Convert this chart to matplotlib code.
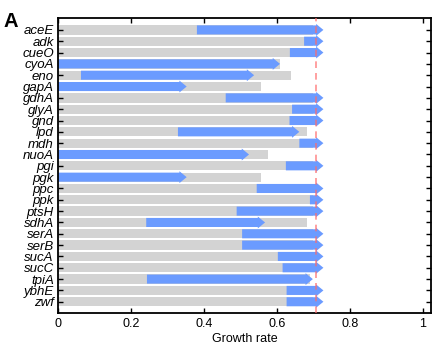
import matplotlib
matplotlib.use('Agg')
import matplotlib.pyplot as plt

plt.rcParams['font.family'] = ['Liberation Sans', 'DejaVu Sans']

# gene knockouts, top to bottom
genes = ['aceE', 'adk', 'cueO', 'cyoA', 'eno', 'gapA', 'gdhA', 'glyA', 'gnd', 'lpd',
         'mdh', 'nuoA', 'pgi', 'pgk', 'ppc', 'ppk', 'ptsH', 'sdhA', 'serA', 'serB',
         'sucA', 'sucC', 'tpiA', 'ybhE', 'zwf']

# grey bar = knockout growth rate, blue arrow = start -> end of evolution
grey_rate = [0.70, 0.70, 0.70, 0.61, 0.638, 0.557, 0.70, 0.70, 0.70, 0.682,
             0.70, 0.576, 0.70, 0.557, 0.70, 0.70, 0.70, 0.684, 0.70, 0.70,
             0.70, 0.70, 0.69, 0.70, 0.70]
arrow_start = [0.381, 0.675, 0.636, 0.0, 0.063, 0.0, 0.460, 0.642, 0.635, 0.329,
               0.662, 0.0, 0.625, 0.0, 0.545, 0.691, 0.490, 0.242, 0.505, 0.505,
               0.603, 0.616, 0.244, 0.627, 0.627]
arrow_end = [0.728, 0.728, 0.728, 0.609, 0.538, 0.353, 0.728, 0.728, 0.728, 0.662,
             0.728, 0.524, 0.728, 0.353, 0.728, 0.728, 0.728, 0.568, 0.728, 0.728,
             0.728, 0.728, 0.699, 0.728, 0.728]
wild_type = 0.707

xticks = [0, 0.2, 0.4, 0.6, 0.8, 1]
xticklabels = ['0', '0.2', '0.4', '0.6', '0.8', '1']

fig = plt.figure(figsize=(4.36, 3.51), dpi=100)
ax = fig.add_axes([0.133, 0.109, 0.8555, 0.8397])

rows = list(range(len(genes)))
ax.barh(rows, grey_rate, height=0.82, color='#d3d3d3', zorder=1)

for y, s, e in zip(rows, arrow_start, arrow_end):
    ax.arrow(s, y, e - s, 0, width=0.8, head_width=1.05, head_length=0.02,
             length_includes_head=True, color='#6b9bff', lw=0, zorder=2)

ax.axvline(wild_type, color='#ff6b6b', alpha=0.75, lw=1.2, ls=(0, (4, 3)), zorder=3)

ax.set_xlim(0, 1.023)
ax.set_ylim(24.97, -1.05)
ax.set_yticks(rows)
ax.set_yticklabels(genes, fontstyle='italic', fontsize=9.5)
ax.set_xticks(xticks)
ax.set_xticklabels(xticklabels, fontsize=9)
ax.set_xlabel('Growth rate', fontsize=9, labelpad=2)

ax.tick_params(direction='in', top=True, right=True, length=3.5, width=1.0, pad=4)
ax.tick_params(axis='y', pad=3)
for sp in ax.spines.values():
    sp.set_linewidth(1.3)

fig.text(0.009, 0.924, 'A', fontsize=14.5, fontweight='bold')

fig.savefig('out.png', dpi=100)
